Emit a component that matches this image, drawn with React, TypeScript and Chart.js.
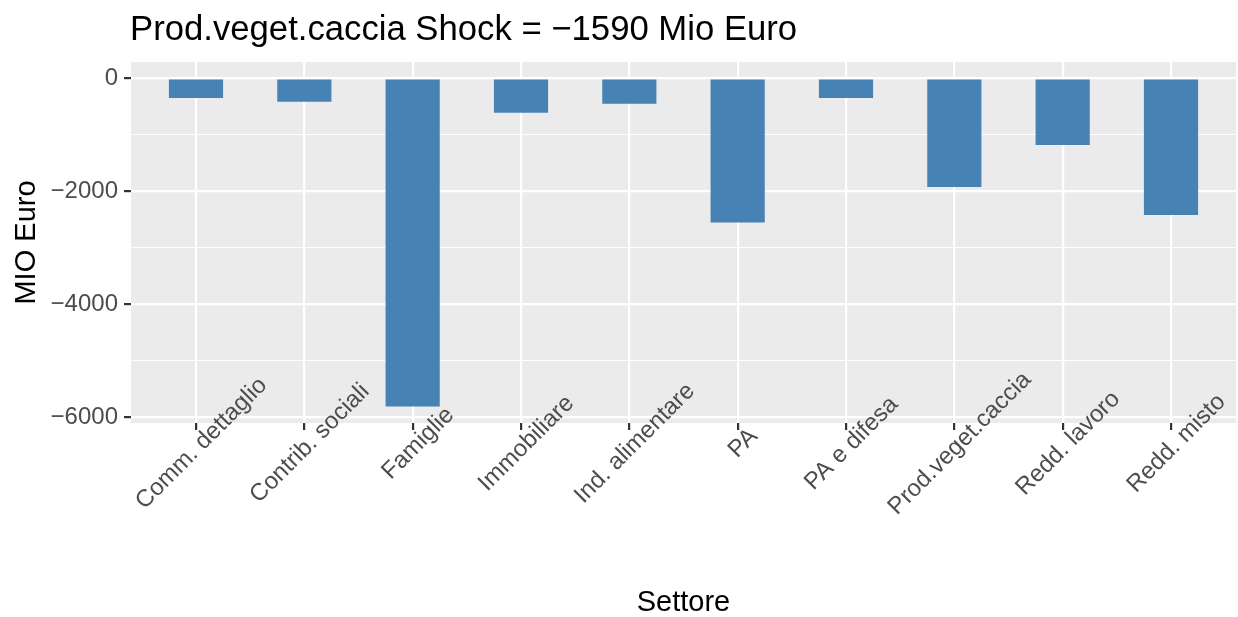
import React, { useEffect, useRef } from "react";
import { Chart, registerables } from "chart.js";

Chart.register(...registerables);

const categories = [
  "Comm. dettaglio",
  "Contrib. sociali",
  "Famiglie",
  "Immobiliare",
  "Ind. alimentare",
  "PA",
  "PA e difesa",
  "Prod.veget.caccia",
  "Redd. lavoro",
  "Redd. misto",
];
const values = [-345, -415, -5812, -610, -450, -2551, -345, -1924, -1178, -2421];
const yMajorTicks = [-6000, -4000, -2000, 0];
const yMinorTicks = [-5000, -3000, -1000];
const titleText = "Prod.veget.caccia Shock = \u22121590 Mio Euro";
const xTitle = "Settore";
const yTitle = "MIO Euro";

const FONT = '"Liberation Sans", Arial, Helvetica, sans-serif';

function fmt(v: number): string {
  return v < 0 ? "\u2212" + Math.abs(v) : String(v);
}

export default function App() {
  const ref = useRef<HTMLCanvasElement>(null);

  useEffect(() => {
    const canvas = ref.current!;
    const lo = Math.min(0, ...values);
    const hi = Math.max(0, ...values);
    const pad = (hi - lo) * 0.05;

    const panelBg = {
      id: "panelBg",
      beforeDraw(chart: any) {
        const { ctx, chartArea: a } = chart;
        ctx.save();
        ctx.fillStyle = "#EBEBEB";
        ctx.fillRect(a.left, a.top, a.right - a.left, a.bottom - a.top);
        ctx.restore();
      },
    };

    const texts = {
      id: "texts",
      afterDraw(chart: any) {
        const { ctx, chartArea: a } = chart;
        const xs = chart.scales.x;
        ctx.save();
        ctx.fillStyle = "#000000";
        ctx.font = `34.7px ${FONT}`;
        ctx.textAlign = "left";
        ctx.textBaseline = "alphabetic";
        ctx.fillText(titleText, a.left - 1, a.top - 22);

        ctx.font = `24px ${FONT}`;
        ctx.fillStyle = "#4D4D4D";
        ctx.textAlign = "center";
        ctx.textBaseline = "middle";
        categories.forEach((c, i) => {
          const x = xs.getPixelForValue(i);
          ctx.save();
          ctx.translate(x + 5.5, a.bottom + 20.5);
          ctx.rotate(-Math.PI / 4);
          ctx.fillText(c, 0, 0);
          ctx.restore();
        });
        ctx.restore();
      },
    };

    const chart = new Chart(canvas, {
      type: "bar",
      data: {
        datasets: [
          {
            data: values.map((v, i) => ({ x: i, y: v })),
            backgroundColor: "#4682B4",
            borderWidth: 0,
            barPercentage: 0.5,
            categoryPercentage: 1,
          } as any,
        ],
      },
      options: {
        responsive: false,
        animation: false,
        devicePixelRatio: 1,
        layout: { padding: { top: 62, right: 2, left: 0, bottom: 0 } },
        plugins: {
          legend: { display: false },
          tooltip: { enabled: false },
          title: { display: false },
        },
        scales: {
          x: {
            type: "linear",
            offset: false,
            min: -0.6,
            max: categories.length - 1 + 0.6,
            afterBuildTicks: (s: any) => {
              s.ticks = categories.map((_, i) => ({ value: i }));
            },
            afterFit: (s: any) => {
              s.height = 194;
            },
            ticks: { display: false },
            grid: {
              offset: false,
              color: "#FFFFFF",
              lineWidth: 2.2,
              tickColor: "#333333",
              tickWidth: 2.2,
              tickLength: 7,
            },
            border: { display: false },
            title: {
              display: true,
              text: xTitle,
              font: { family: FONT, size: 29, lineHeight: 0.95 },
              color: "#000000",
              padding: { top: 0, bottom: 0 },
            },
          },
          y: {
            type: "linear",
            min: lo - pad,
            max: hi + pad,
            afterBuildTicks: (s: any) => {
              s.ticks = [...yMinorTicks, ...yMajorTicks]
                .sort((a, b) => a - b)
                .map((v) => ({ value: v }));
            },
            afterFit: (s: any) => {
              s.width = 131;
            },
            ticks: {
              autoSkip: false,
              font: { family: FONT, size: 24 },
              color: "#4D4D4D",
              padding: 6,
              callback: (v: any) => (yMajorTicks.includes(Number(v)) ? fmt(Number(v)) : ""),
            },
            grid: {
              color: "#FFFFFF",
              lineWidth: (ctx: any) => (yMajorTicks.includes(ctx.tick?.value) ? 2.2 : 1.1),
              tickColor: (ctx: any) =>
                yMajorTicks.includes(ctx.tick?.value) ? "#333333" : "rgba(0,0,0,0)",
              tickWidth: 2.2,
              tickLength: 7,
            },
            border: { display: false },
            title: {
              display: true,
              text: yTitle,
              font: { family: FONT, size: 29 },
              color: "#000000",
              padding: { top: 10, bottom: 0 },
            },
          },
        },
      } as any,
      plugins: [panelBg, texts],
    });

    return () => chart.destroy();
  }, []);

  return (
    <div style={{ position: "fixed", left: 0, top: 0, width: 1238, height: 617, background: "#FFFFFF" }}>
      <canvas ref={ref} width={1238} height={617} style={{ display: "block" }} />
    </div>
  );
}
